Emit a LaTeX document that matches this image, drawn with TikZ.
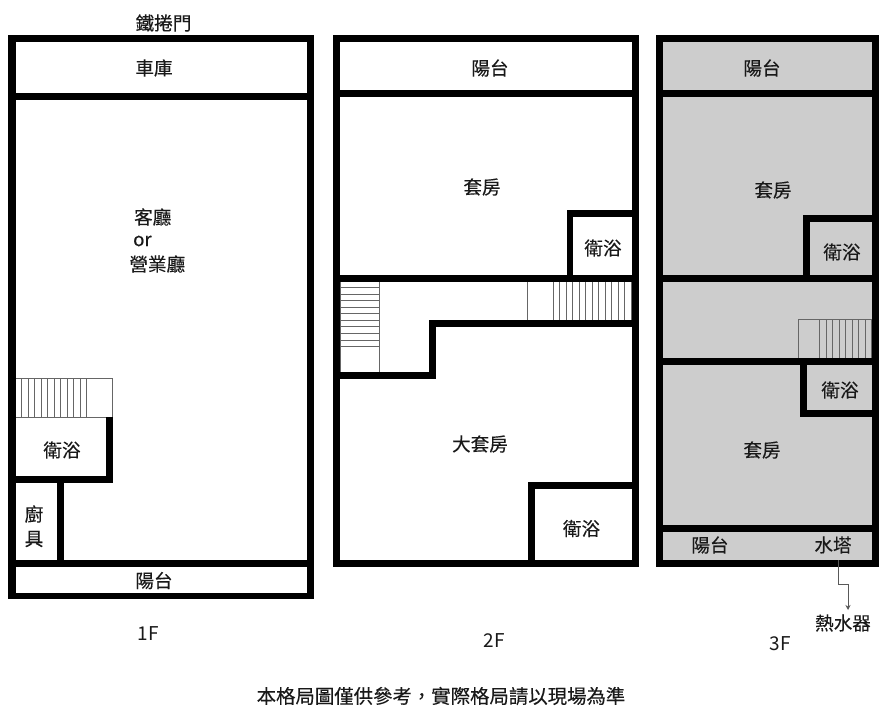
\documentclass[tikz,border=0pt]{standalone}
\usepackage{fontspec}
\setmainfont{Noto Sans CJK TC}
\newfontfamily\cjkm[FakeBold=0.2]{Noto Sans CJK TC}
\usetikzlibrary{arrows.meta}
\definecolor{roomgray}{HTML}{CDCDCD}
\tikzset{
  wall/.style={fill=black,draw=none},
  riser/.style={draw=black!60,line width=0.7pt},
  lab/.style={font=\cjkm\fontsize{18.6}{22}\selectfont,inner sep=0pt,text=black!90},
  flr/.style={font=\fontsize{19}{22}\selectfont,inner sep=0pt,text=black!90},
  pipe/.style={draw=black!65,line width=0.7pt}
}
\newcommand{\W}[4]{\fill[wall] (#1,#2) rectangle (#3,#4);}
\begin{document}
\begin{tikzpicture}[x=1pt,y=-1pt]
\useasboundingbox (0,0) rectangle (889,713);
\fill[white] (0,0) rectangle (889,713);
% ---- 3F grey
\fill[roomgray] (660,38) rectangle (875,563);
% ---- stairs 1F
\draw[riser] (15.5,378.7) rectangle (112.7,417.3);
\foreach \x in {21.7,28,34.3,41,47.3,54,60.7,67,73.7,80,86.7} \draw[riser] (\x,378.7) -- (\x,417.3);
% ---- stairs 2F
\draw[riser] (340,287.7) -- (379.3,287.7);
\foreach \y in {294.3,300.7,307.3,313.7,320.3,326.7,333.3,340,346.3} \draw[riser] (340,\y) -- (379.3,\y);
\draw[riser] (379.3,281) -- (379.3,372);
\draw[riser] (340,281) -- (340,372);
\foreach \x in {527.7,553.3,559.8,566.3,572.8,579.3,585.8,592.3,598.8,605.3,611.8,618.3,624.8,631.3} \draw[riser] (\x,281.5) -- (\x,320.5);
% ---- stairs 3F
\draw[riser] (798.3,319.3) -- (872,319.3);
\foreach \x in {798.3,819.3,826,832.3,839,845.3,852,858.3,865,871.5} \draw[riser] (\x,319.3) -- (\x,358.5);
% ---- 1F walls
\W{8.3}{35}{15.7}{599.3}
\W{306.7}{35}{313.7}{599.3}
\W{8.3}{35}{313.7}{42}
\W{8.3}{93.3}{313.7}{100}
\W{8.3}{560}{313.7}{566.7}
\W{8.3}{592.7}{313.7}{599.3}
\W{105.7}{417.3}{112.7}{482.7}
\W{8.3}{476}{112.7}{482.7}
\W{57.3}{476}{64}{566}
% ---- 2F walls
\W{332.7}{35}{340}{567}
\W{631.5}{35}{638.5}{567}
\W{332.7}{35}{638.5}{42}
\W{332.7}{90}{638.5}{97}
\W{566.7}{210}{638}{217.3}
\W{566.7}{210}{573.3}{281}
\W{332.7}{274.7}{638.5}{281.7}
\W{429.3}{320.3}{638}{327}
\W{429.3}{320.3}{436}{379}
\W{332.7}{372}{436}{379}
\W{527.7}{482.3}{534.7}{566}
\W{527.7}{482.3}{638}{489.3}
\W{332.7}{560}{638.5}{567}
% ---- 3F walls
\W{656}{35}{663}{567}
\W{872}{35}{879}{567}
\W{656}{35}{879}{42}
\W{663}{90}{872}{97}
\W{803.3}{215.3}{875}{222.3}
\W{803.3}{215.3}{810.3}{278}
\W{656}{274.7}{879}{281.7}
\W{656}{358.3}{879}{365.3}
\W{799.7}{362}{806.7}{417.3}
\W{799.7}{410.3}{875}{417.3}
\W{656}{525}{879}{532}
\W{656}{560}{879}{567}
% ---- labels 1F
\node[lab] (door) at (163.5,23) {鐵捲門};
\node[lab] (garage) at (154,68) {車庫};
\node[lab] (living1) at (152.7,217) {客廳};
\node[lab,anchor=west] (living2) at (133,241) {or};
\node[lab] (living3) at (157.3,264) {營業廳};
\node[lab] (bath1) at (62,450) {衛浴};
\node[lab] (kit1) at (34,514) {廚};
\node[lab] (kit2) at (34,539) {具};
\node[lab] (balc1) at (154,580.5) {陽台};
\node[flr] (f1) at (148,634) {1F};
% ---- labels 2F
\node[lab] (balc2) at (490,68) {陽台};
\node[lab] (suite2) at (482,187) {套房};
\node[lab] (bath2) at (603,248) {衛浴};
\node[lab] (msuite) at (480,444) {大套房};
\node[lab] (bath2b) at (581.5,528.5) {衛浴};
\node[flr] (f2) at (494.5,641) {2F};
% ---- labels 3F
\node[lab] (balc3) at (762,68) {陽台};
\node[lab] (suite3) at (773,190) {套房};
\node[lab] (bath3) at (842,252) {衛浴};
\node[lab] (bath3b) at (840,390) {衛浴};
\node[lab] (suite3b) at (762,450) {套房};
\node[lab] (balc3b) at (710,545) {陽台};
\node[lab] (tower) at (833,545) {水塔};
\node[lab] (heater) at (843,623) {熱水器};
\node[flr] (f3) at (780,644) {3F};
% ---- pipe
\coordinate (pipeA) at (838.3,560);
\coordinate (pipeB) at (838.3,584.7);
\coordinate (pipeC) at (848,584.7);
\coordinate (pipeD) at (848,610);
\draw[pipe,-{Stealth[length=5pt,width=5pt]}] (pipeA) -- (pipeB) -- (pipeC) -- (pipeD);
% ---- caption
\node[font=\cjkm\fontsize{19.4}{23}\selectfont,inner sep=0pt,text=black!90] (note) at (441,696) {本格局圖僅供參考，實際格局請以現場為準};
\end{tikzpicture}
\end{document}
